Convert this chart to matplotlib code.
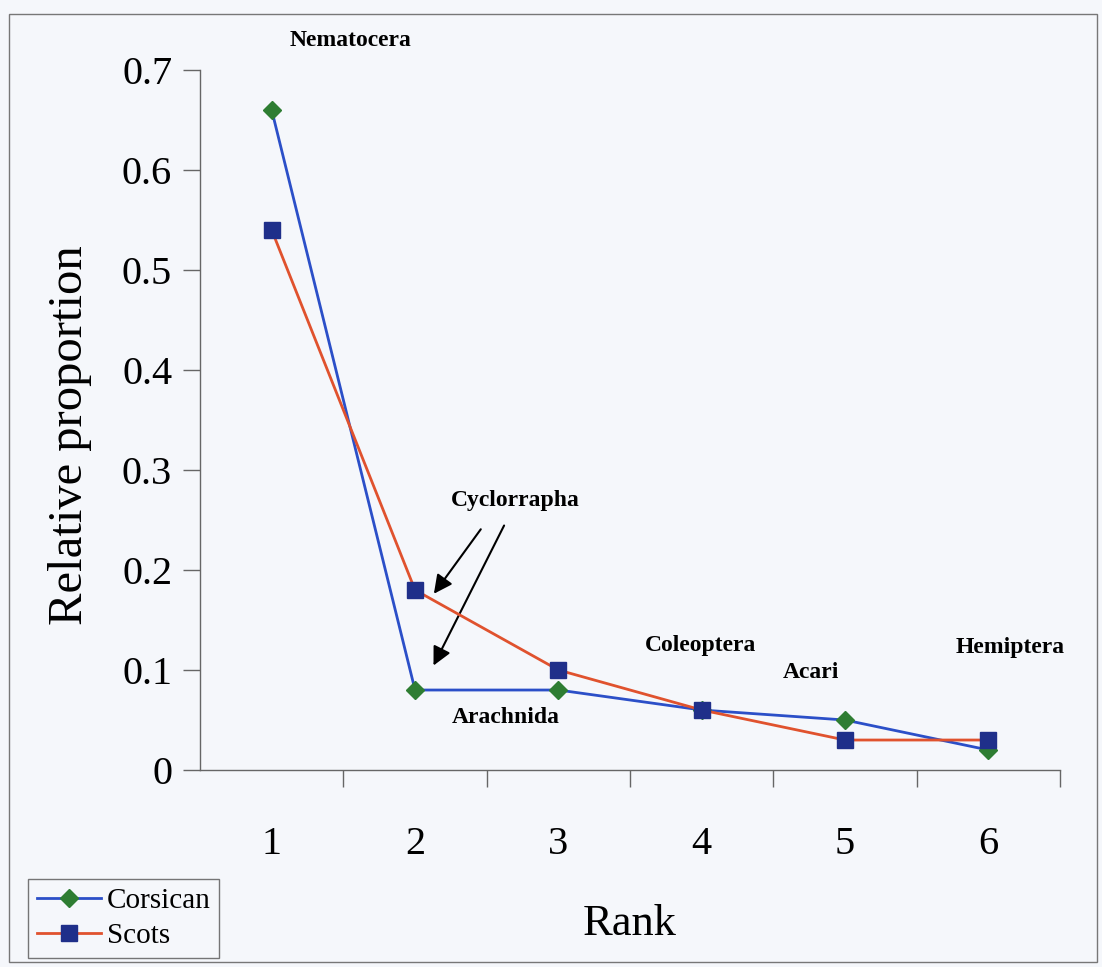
import matplotlib
matplotlib.use("Agg")
import matplotlib.pyplot as plt
from matplotlib.patches import Rectangle

# Data
ranks = [1, 2, 3, 4, 5, 6]
corsican = [0.66, 0.08, 0.08, 0.06, 0.05, 0.02]
scots = [0.54, 0.18, 0.10, 0.06, 0.03, 0.03]

# taxon labels and their (rank, proportion) positions
taxa = ['Nematocera', 'Cyclorrapha', 'Arachnida', 'Coleoptera', 'Acari', 'Hemiptera']
taxa_x = [1.55, 2.70, 2.63, 3.99, 4.76, 6.15]
taxa_y = [0.730, 0.270, 0.053, 0.125, 0.098, 0.123]

plt.rcParams['font.family'] = ['Liberation Serif', 'DejaVu Serif']
BG = '#f5f7fb'

fig = plt.figure(figsize=(11.02, 9.67), dpi=100, facecolor=BG)
ax = fig.add_axes([0.1815, 0.2037, 0.7805, 0.7239], facecolor=BG)

ax.plot(ranks, corsican, color='#2b4fc8', lw=2, marker='D', ms=9,
        mfc='#2e7d32', mec='#2e7d32', label='Corsican', zorder=3)
ax.plot(ranks, scots, color='#e0522e', lw=2, marker='s', ms=12,
        mfc='#1f2f8a', mec='#1f2f8a', label='Scots', zorder=4)

ax.set_xlim(0.5, 6.5)
ax.set_ylim(0, 0.7)
ax.set_yticks([0, 0.1, 0.2, 0.3, 0.4, 0.5, 0.6, 0.7])
ax.set_yticklabels(['0', '0.1', '0.2', '0.3', '0.4', '0.5', '0.6', '0.7'])
ax.set_xticks(ranks)
ax.set_xticklabels([str(r) for r in ranks])
ax.set_xticks([1.5, 2.5, 3.5, 4.5, 5.5, 6.5], minor=True)
ax.tick_params(axis='x', which='major', length=0, pad=40, labelsize=29)
ax.tick_params(axis='x', which='minor', length=12, width=1, color='#666666', direction='out')
ax.tick_params(axis='y', length=12, width=1, color='#666666', labelsize=29, pad=8)

for s in ['top', 'right']:
    ax.spines[s].set_visible(False)
for s in ['left', 'bottom']:
    ax.spines[s].set_color('#666666')
    ax.spines[s].set_linewidth(1)

ax.set_xlabel('Rank', fontsize=32, labelpad=30)
ax.set_ylabel('Relative proportion', fontsize=35)
ax.yaxis.set_label_coords(-0.125, 0.479)

for name, tx, ty in zip(taxa, taxa_x, taxa_y):
    ax.text(tx, ty, name, fontsize=17, fontweight='bold', ha='center', va='center',
            clip_on=False)

# arrows pointing from the Cyclorrapha label to both rank-2 points
ax.annotate('', xy=(2.12, 0.174), xytext=(2.47, 0.243),
            arrowprops=dict(arrowstyle='-|>', color='black', lw=1.5, mutation_scale=28))
ax.annotate('', xy=(2.12, 0.102), xytext=(2.63, 0.247),
            arrowprops=dict(arrowstyle='-|>', color='black', lw=1.5, mutation_scale=28))

leg = fig.legend(loc='lower left', bbox_to_anchor=(28 / 1102, 9 / 967), fontsize=21,
                 frameon=True, fancybox=False, edgecolor='#555555', facecolor=BG,
                 handlelength=2.2, handletextpad=0.2, borderpad=0.3, labelspacing=0.3,
                 borderaxespad=0)
leg.get_frame().set_linewidth(1)

# outer border of the scanned figure
fig.patches.append(Rectangle((9 / 1102, 5 / 967), 1088 / 1102, 948 / 967,
                             transform=fig.transFigure, fill=False,
                             edgecolor='#777777', lw=1))

fig.savefig('out.png', dpi=100, facecolor=BG)
